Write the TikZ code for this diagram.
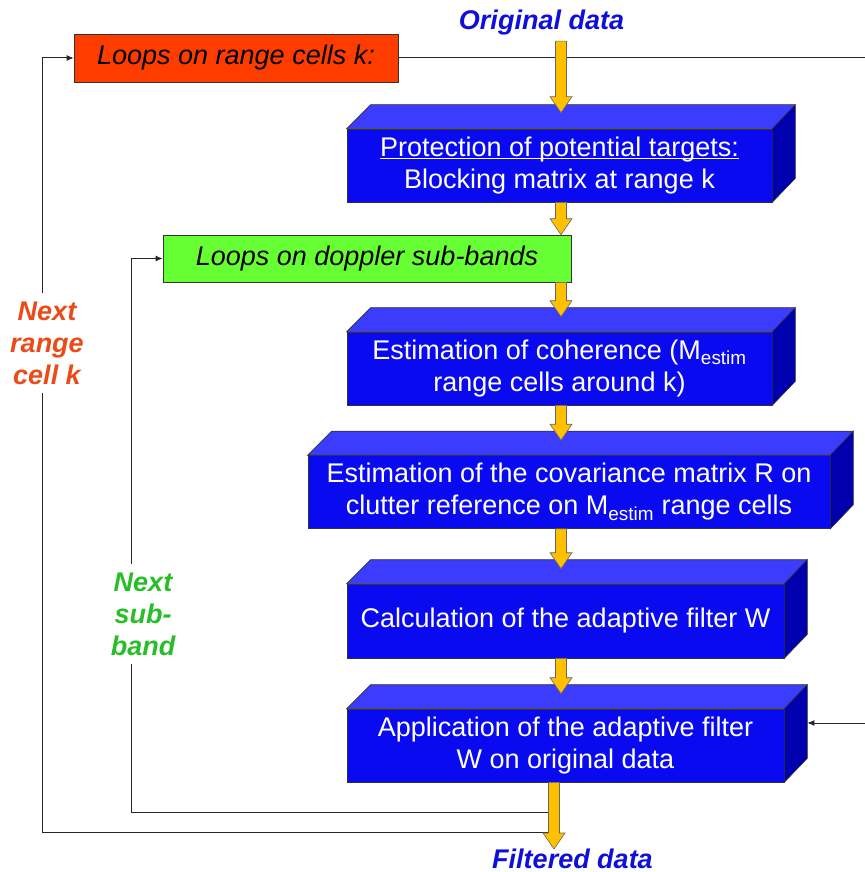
\documentclass[tikz,border=0pt]{standalone}
\usepackage{fontspec}
\setmainfont{Liberation Sans}
\usetikzlibrary{arrows.meta,calc}
\definecolor{faceblue}{RGB}{10,10,240}
\definecolor{topblue}{RGB}{60,60,255}
\definecolor{sideblue}{RGB}{0,0,175}
\definecolor{rangered}{RGB}{255,60,0}
\definecolor{subgreen}{RGB}{102,255,51}
\definecolor{arrowyellow}{RGB}{255,192,0}
\definecolor{labelred}{RGB}{235,75,25}
\definecolor{labelgreen}{RGB}{40,190,40}
\definecolor{datablue}{RGB}{15,15,220}
\newcommand{\bigfont}{\fontsize{27}{32}\selectfont}
\newcommand{\Mest}{M\textsubscript{estim}}
\newcommand{\ulin}[1]{\setbox0\hbox{#1}\rlap{\rule[-3pt]{\wd0}{1.3pt}}\box0}
\newcommand{\yarrow}[2]{%
  \path #1 coordinate (ya) #2 coordinate (yb);
  \filldraw[fill=arrowyellow,draw=black!60,line width=0.6pt]
    ($(ya)+(-5.5,0)$) -- ($(yb)+(-5.5,-16)$) -- ($(yb)+(-11,-16)$) -- (yb)
    -- ($(yb)+(11,-16)$) -- ($(yb)+(5.5,-16)$) -- ($(ya)+(5.5,0)$) -- cycle;}

\begin{document}
\begin{tikzpicture}[x=1pt,y=-1pt,>={Latex[length=7pt,width=6pt]},
  block/.style={fill=faceblue,draw=black!80,line width=0.6pt,text=white,font=\bigfont,align=center,inner sep=0pt},
  loopbox/.style={draw=black!80,line width=0.6pt,font=\bigfont\itshape,inner sep=0pt},
  loopline/.style={draw=black!85,line width=1pt},
  looplabel/.style={fill=white,font=\fontsize{27}{32}\selectfont\bfseries\itshape,align=center,inner xsep=1pt,inner ysep=9pt},
  datalabel/.style={font=\bigfont\bfseries\itshape,text=datablue}]
\useasboundingbox (0,0) rectangle (864,872);

\node[loopbox,fill=rangered,minimum width=324,minimum height=48] (rng) at (236,58) {Loops on range cells k:};
\node[loopbox,fill=subgreen,minimum width=408,minimum height=47] (dop) at (367,258.5) {Loops on doppler sub-bands};

\node[block,minimum width=425,minimum height=73] (prot) at (559.5,165.5) {\ulin{Protection of potential targets:}\\Blocking matrix at range k};
\node[block,minimum width=425,minimum height=73] (coh) at (559.5,368.5) {Estimation of coherence (\Mest\\range cells around k)};
\node[block,minimum width=522,minimum height=73] (cov) at (569,492) {Estimation of the covariance matrix R on\\clutter reference on \Mest{} range cells};
\node[block,minimum width=437,minimum height=74] (calc) at (565.5,621) {Calculation of the adaptive filter W};
\node[block,minimum width=437,minimum height=73] (appl) at (565.5,745.5) {Application of the adaptive filter\\W on original data};

\foreach \b in {prot,coh,cov,calc,appl}{
  \filldraw[fill=topblue,draw=black!80,line width=0.6pt] (\b.north west) -- ++(24,-24) -- ($(\b.north east)+(23,-24)$) -- (\b.north east) -- cycle;
  \filldraw[fill=sideblue,draw=black!80,line width=0.6pt] (\b.north east) -- ++(23,-24) -- ($(\b.south east)+(23,-24)$) -- (\b.south east) -- cycle;
}

\node[datalabel,anchor=base] (orig) at (541.5,30) {Original data};
\node[datalabel,anchor=base] (filt) at (572.5,868) {Filtered data};

\coordinate (spine) at (561,0);
\coordinate (out) at (554,849);
\coordinate (sret) at (554,812);
\coordinate (rret) at (554,832);

\draw[loopline,->] (sret) -| ($(dop.west)+(-31,0)$) -- (dop.west);
\draw[loopline,->] (rret) -| ($(rng.west)+(-31,0)$) -- (rng.west);
\draw[loopline,->] (rng.east) -- (870,58) -- (870,723) -- ($(appl.east)+(23,-22.5)$);

\node[looplabel,text=labelred] (nrange) at (47,343) {Next\\range\\cell k};
\node[looplabel,text=labelgreen] (nsub) at (143,614) {Next\\sub-\\band};

\yarrow{($(spine |- orig.south)+(0,2)$)}{($(spine |- prot.north)+(0,-16)$)}
\yarrow{(spine |- prot.south)}{(spine |- dop.north)}
\yarrow{(spine |- dop.south)}{($(spine |- coh.north)+(0,-15)$)}
\foreach \a/\b in {coh/cov,cov/calc,calc/appl}{
  \yarrow{(spine |- \a.south)}{($(spine |- \b.north)+(0,-15)$)}
}
\yarrow{(out |- appl.south)}{(out)}
\end{tikzpicture}
\end{document}
